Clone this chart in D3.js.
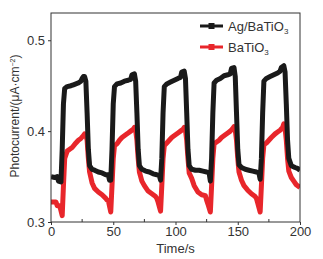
<!DOCTYPE html>
<html>
<head>
<meta charset="utf-8">
<script src="https://cdn.jsdelivr.net/npm/d3@7"></script>
<style>
  body { margin: 0; background: #fff; }
  text { font-family: "Liberation Sans", Arial, sans-serif; fill: #333; }
</style>
</head>
<body>
<script>
// time axis (s) and photocurrent readings for each sample
const agTime = [0, 3, 5, 6, 8, 9, 10, 11, 13, 16, 18, 20, 22, 24, 25, 26, 27, 28, 29, 30, 31, 33, 35, 38, 41, 44, 46, 47, 48,
    49, 50, 51, 53, 56, 59, 62, 64, 65, 67, 68, 69, 70, 71, 73, 76, 79, 82, 85, 87, 88,
    89, 90, 91, 93, 96, 99, 102, 104, 105, 107, 108, 109, 110, 111, 113, 116, 119, 122, 125, 127, 128,
    129, 130, 131, 133, 136, 139, 142, 144, 145, 147, 148, 149, 150, 151, 153, 156, 159, 162, 165, 167, 168,
    169, 170, 171, 173, 176, 179, 182, 184, 185, 187, 188, 189, 190, 191, 193, 196, 198, 200];
const agValues = [0.350, 0.349, 0.350, 0.345, 0.344, 0.38, 0.43, 0.447, 0.449, 0.450, 0.451, 0.452, 0.453, 0.455, 0.458, 0.460, 0.460, 0.455, 0.42, 0.38, 0.362, 0.358, 0.357, 0.355, 0.354, 0.352, 0.352, 0.346, 0.346,
    0.38, 0.43, 0.449, 0.452, 0.453, 0.455, 0.456, 0.457, 0.462, 0.463, 0.455, 0.42, 0.38, 0.362, 0.358, 0.356, 0.355, 0.353, 0.352, 0.351, 0.346,
    0.37, 0.42, 0.449, 0.452, 0.454, 0.456, 0.458, 0.459, 0.465, 0.466, 0.458, 0.42, 0.38, 0.362, 0.358, 0.357, 0.357, 0.356, 0.355, 0.354, 0.345,
    0.37, 0.42, 0.453, 0.456, 0.458, 0.461, 0.462, 0.463, 0.469, 0.470, 0.46, 0.42, 0.38, 0.363, 0.360, 0.358, 0.357, 0.356, 0.355, 0.354, 0.347,
    0.37, 0.42, 0.455, 0.458, 0.460, 0.462, 0.464, 0.466, 0.470, 0.472, 0.465, 0.43, 0.39, 0.37, 0.362, 0.360, 0.359, 0.357];

const btTime = [0, 4, 5, 7, 9, 10, 11, 13, 15, 17, 20, 22, 24, 26, 27, 28, 29, 30, 31, 33, 35, 38, 41, 44, 45, 46, 48,
    49, 50, 51, 53, 55, 57, 60, 62, 64, 66, 67, 68, 69, 70, 71, 73, 75, 78, 81, 84, 85, 86, 88,
    89, 90, 91, 93, 95, 97, 100, 102, 104, 106, 107, 108, 109, 110, 111, 113, 115, 118, 121, 124, 125, 126, 128,
    129, 130, 131, 133, 135, 137, 140, 142, 144, 146, 147, 148, 149, 150, 151, 153, 155, 158, 161, 164, 165, 166, 168,
    169, 170, 171, 173, 175, 177, 180, 182, 184, 186, 187, 188, 189, 190, 191, 193, 195, 197, 200];
const btValues = [0.322, 0.322, 0.318, 0.318, 0.307, 0.34, 0.37, 0.378, 0.380, 0.382, 0.387, 0.390, 0.392, 0.395, 0.397, 0.396, 0.39, 0.37, 0.355, 0.343, 0.337, 0.333, 0.330, 0.326, 0.324, 0.324, 0.311,
    0.34, 0.37, 0.384, 0.386, 0.390, 0.393, 0.396, 0.398, 0.400, 0.402, 0.404, 0.401, 0.39, 0.37, 0.355, 0.345, 0.340, 0.334, 0.331, 0.328, 0.326, 0.322, 0.312,
    0.34, 0.37, 0.384, 0.387, 0.390, 0.393, 0.396, 0.398, 0.400, 0.402, 0.404, 0.401, 0.39, 0.37, 0.354, 0.348, 0.340, 0.333, 0.330, 0.329, 0.324, 0.320, 0.311,
    0.34, 0.37, 0.386, 0.388, 0.390, 0.393, 0.396, 0.398, 0.400, 0.403, 0.405, 0.401, 0.39, 0.37, 0.355, 0.346, 0.340, 0.335, 0.331, 0.328, 0.326, 0.321, 0.311,
    0.34, 0.37, 0.385, 0.387, 0.390, 0.393, 0.397, 0.399, 0.401, 0.404, 0.408, 0.403, 0.39, 0.37, 0.356, 0.349, 0.345, 0.341, 0.338];

const xTicks = [0, 50, 100, 150, 200];
const xMinor = [25, 75, 125, 175];
const yTicks = [0.3, 0.4, 0.5];

const width = 323, height = 259;
const margins = {top: 13, left: 51, right: 23, bottom: 37};

const svg = d3.select('body').append('svg')
    .attr('width', width)
    .attr('height', height);

const x = d3.scaleLinear().domain([0, 200]).range([margins.left, width - margins.right]);
const y = d3.scaleLinear().domain([0.3, 0.53]).range([height - margins.bottom, margins.top]);

svg.append('clipPath').attr('id', 'body-clip')
    .append('rect')
    .attr('x', margins.left).attr('y', margins.top)
    .attr('width', width - margins.left - margins.right)
    .attr('height', height - margins.top - margins.bottom);

const line = d3.line().x(d => x(d[0])).y(d => y(d[1]));

const series = [
    {t: btTime, v: btValues, color: '#e8262b'},
    {t: agTime, v: agValues, color: '#1a1a1a'}
];
series.forEach(s => {
    svg.append('path')
        .datum(s.t.map((t, i) => [t, s.v[i]]))
        .attr('clip-path', 'url(#body-clip)')
        .attr('fill', 'none')
        .attr('stroke', s.color)
        .attr('stroke-width', 5)
        .attr('stroke-linejoin', 'round')
        .attr('d', line);
});

// axes: short outward major ticks, inward minor ticks on x
const bottom = height - margins.bottom;
const xAxis = d3.axisBottom(x).tickValues(xTicks).tickSize(3).tickPadding(2).tickFormat(d3.format('d'));
svg.append('g').attr('transform', 'translate(0,' + bottom + ')').call(xAxis);
xMinor.forEach(t => {
    svg.append('line').attr('x1', x(t)).attr('x2', x(t))
        .attr('y1', bottom).attr('y2', bottom - 3)
        .attr('stroke', '#333');
});

const yAxis = d3.axisLeft(y).tickValues(yTicks).tickSize(3).tickPadding(3).tickFormat(d3.format('.1f'));
svg.append('g').attr('transform', 'translate(' + margins.left + ',0)').call(yAxis);

svg.selectAll('.domain').remove();
svg.selectAll('.tick line').attr('stroke', '#333');
svg.selectAll('.tick text').style('font-size', '13px').attr('fill', '#333');

svg.append('rect')
    .attr('x', margins.left).attr('y', margins.top)
    .attr('width', width - margins.left - margins.right)
    .attr('height', height - margins.top - margins.bottom)
    .attr('fill', 'none')
    .attr('stroke', '#333')
    .attr('stroke-width', 1);

svg.append('text')
    .attr('x', (margins.left + width - margins.right) / 2)
    .attr('y', 253)
    .attr('text-anchor', 'middle')
    .style('font-size', '13px')
    .text('Time/s');

const yLabel = svg.append('text')
    .attr('transform', 'translate(19,116) rotate(-90)')
    .attr('text-anchor', 'middle')
    .style('font-size', '12px');
yLabel.append('tspan').text('Photocurrent/(μA·cm');
yLabel.append('tspan').attr('dy', -4).style('font-size', '7px').text('−2');
yLabel.append('tspan').attr('dy', 4).text(')');

// legend
const legend = [
    {label: 'Ag/BaTiO', color: '#1a1a1a', y: 26},
    {label: 'BaTiO', color: '#e8262b', y: 47}
];
legend.forEach(l => {
    svg.append('line')
        .attr('x1', 200).attr('x2', 223)
        .attr('y1', l.y).attr('y2', l.y)
        .attr('stroke', l.color).attr('stroke-width', 3);
    svg.append('rect')
        .attr('x', 208.5).attr('y', l.y - 3)
        .attr('width', 6).attr('height', 6)
        .attr('fill', l.color);
    const t = svg.append('text')
        .attr('x', 228).attr('y', l.y + 4.5)
        .style('font-size', '13px');
    t.append('tspan').text(l.label);
    t.append('tspan').attr('dy', 3).style('font-size', '8px').text('3');
});
</script>
</body>
</html>
